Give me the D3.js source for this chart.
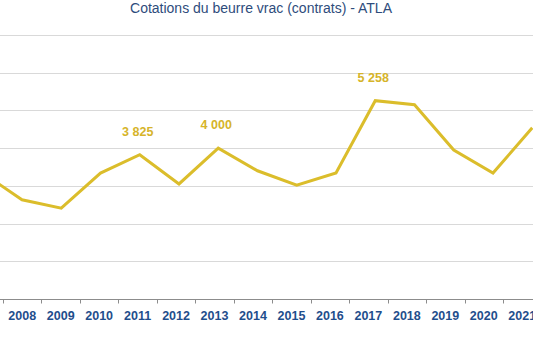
<!DOCTYPE html>
<html><head><meta charset="utf-8">
<script src="https://cdn.jsdelivr.net/npm/d3@7"></script>
<style>body{margin:0;background:#fff;overflow:hidden}</style>
</head><body>
<svg id="c" width="533" height="338"></svg>
<script>
const years = ["2007","2008","2009","2010","2011","2012","2013","2014","2015","2016","2017","2018","2019","2020","2021"];
const values = [3340,2630,2410,3340,3825,3050,4000,3400,3020,3340,5258,5150,3950,3340,4540];
const labelled = ["2011","2013","2017"];
const yTicks = [0,1000,2000,3000,4000,5000,6000,7000];
const title = "Cotations du beurre vrac (contrats) - ATLA";

const svg = d3.select("#c");
const step = 38.46;
const x = d3.scaleBand().domain(years).range([3 - step, 3 - step + step*years.length]).padding(0);
const xLine = d3.scalePoint().domain(years).range([-17.25, 532.25]);
const y = d3.scaleLinear().domain([0,7000]).range([299,35]);

// gridlines
svg.append("g").selectAll("line").data(yTicks.slice(1)).join("line")
  .attr("x1",0).attr("x2",533).attr("y1",d=>Math.round(y(d))+0.5).attr("y2",d=>Math.round(y(d))+0.5)
  .attr("stroke","#d9d9d9").attr("stroke-width",1);

// x axis (first category lies outside the visible area)
const xAxis = d3.axisBottom(x).tickSize(0).tickPadding(12).tickValues(years.slice(1));
const gx = svg.append("g").attr("transform","translate(0,299.5)").call(xAxis);
gx.select(".domain").attr("stroke","#8c8c8c").attr("d","M0,0H533");
gx.selectAll("text").attr("fill","#1f4e8c").attr("font-family","Liberation Sans, Arial, sans-serif")
  .attr("font-weight","bold").attr("font-size","12.5px");
// boundary ticks
const bounds = years.map(d=>x(d)).concat([x(years[years.length-1])+x.bandwidth()]);
gx.append("g").selectAll("line").data(bounds).join("line")
  .attr("x1",d=>Math.round(d)+0.5).attr("x2",d=>Math.round(d)+0.5).attr("y1",0).attr("y2",4)
  .attr("stroke","#8c8c8c");

// line
const line = d3.line().x((d,i)=>xLine(years[i])).y(d=>y(d));
svg.append("path").datum(values).attr("d",line).attr("fill","none")
  .attr("stroke","#dbbd2b").attr("stroke-width",3).attr("stroke-linejoin","miter");

// data labels
const fmt = v => d3.format(",")(v).replace(/,/g," ");
svg.append("g").selectAll("text").data(years.map((d,i)=>({year:d,v:values[i]})).filter(d=>labelled.includes(d.year)))
  .join("text")
  .attr("x",d=>xLine(d.year)-2).attr("y",d=>y(d.v)-19)
  .attr("text-anchor","middle").attr("fill","#d6b42a")
  .attr("font-family","Liberation Sans, Arial, sans-serif").attr("font-weight","bold").attr("font-size","12.5px")
  .text(d=>fmt(d.v));

// title
svg.append("text").attr("x",261).attr("y",13).attr("text-anchor","middle")
  .attr("fill","#2e4c7c").attr("font-family","Liberation Sans, Arial, sans-serif").attr("font-size","14px")
  .text(title);
</script>
</body></html>
